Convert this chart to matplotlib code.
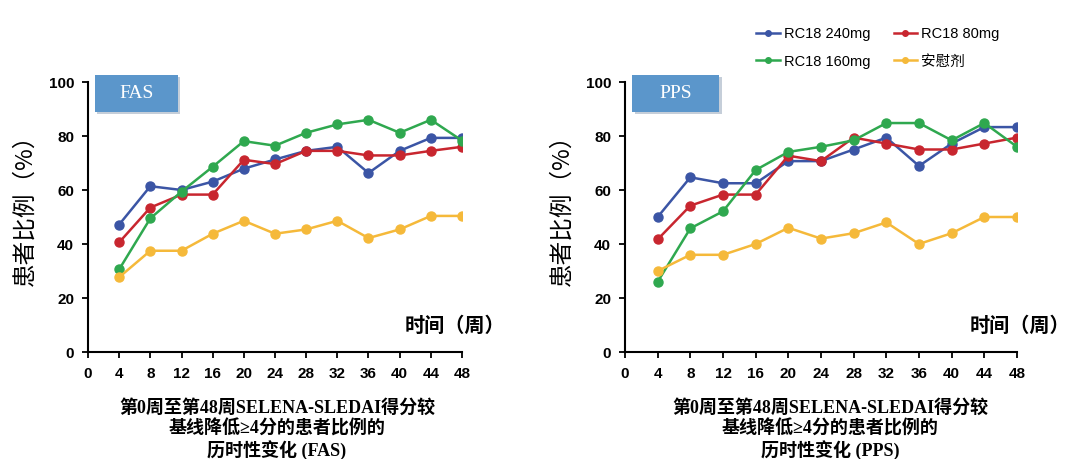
import matplotlib.pyplot as plt
from matplotlib.patches import FancyBboxPatch
from matplotlib.lines import Line2D

plt.rcParams['font.family'] = ['Liberation Sans', 'Noto Sans CJK SC']

weeks = [4, 8, 12, 16, 20, 24, 28, 32, 36, 40, 44, 48]
series_names = ['RC18 240mg', 'RC18 80mg', 'RC18 160mg', '安慰剂']
colors = ['#3B55A5', '#C8262F', '#2FA84F', '#F5B93A']

# FAS
fas_240 = [47.2, 61.4, 60.0, 63.1, 67.9, 71.3, 74.5, 76.0, 66.3, 74.5, 79.3, 79.3]
fas_80 = [40.6, 53.5, 58.3, 58.3, 71.2, 69.6, 74.5, 74.5, 72.8, 72.8, 74.5, 76.0]
fas_160 = [30.6, 49.5, 59.4, 68.6, 78.1, 76.4, 81.2, 84.3, 86.0, 81.2, 86.0, 78.3]
fas_pbo = [27.7, 37.5, 37.5, 43.8, 48.6, 43.8, 45.4, 48.6, 42.2, 45.4, 50.4, 50.4]

# PPS
pps_240 = [50.0, 64.7, 62.5, 62.5, 70.7, 70.7, 75.0, 79.4, 68.9, 77.2, 83.3, 83.3]
pps_80 = [41.7, 54.2, 58.3, 58.3, 72.7, 70.7, 79.4, 77.2, 75.0, 75.0, 77.2, 79.4]
pps_160 = [26.0, 45.8, 52.1, 67.4, 74.1, 76.0, 78.4, 84.8, 84.8, 78.4, 84.8, 76.0]
pps_pbo = [30.0, 36.0, 36.0, 40.0, 46.0, 42.0, 44.0, 48.0, 40.0, 44.0, 50.0, 50.0]

panels = [
    ('FAS', [fas_240, fas_80, fas_160, fas_pbo],
     ['第0周至第48周SELENA-SLEDAI得分较', '基线降低≥4分的患者比例的', '历时性变化 (FAS)']),
    ('PPS', [pps_240, pps_80, pps_160, pps_pbo],
     ['第0周至第48周SELENA-SLEDAI得分较', '基线降低≥4分的患者比例的', '历时性变化 (PPS)']),
]

W, H = 1071, 459
fig = plt.figure(figsize=(W / 100, H / 100), dpi=100)

ax_lefts = [88, 625]
ax_right_edges = [462, 1017]
ylabel_x = [25, 562]
time_label_right = [505, 1070]
caption_centers = [277, 830]
serif_cjk = ['Liberation Serif', 'Noto Sans CJK SC']

for i, (tag, data, caption) in enumerate(panels):
    l = ax_lefts[i] / W
    w = (ax_right_edges[i] - ax_lefts[i]) / W
    b = (H - 352) / H
    h = 270 / H
    ax = fig.add_axes([l, b, w, h])
    for vals, c in zip(data, colors):
        ax.plot(weeks, vals, color=c, lw=1.8, marker='o', ms=6.5, zorder=3)
    ax.set_xlim(0, 48)
    ax.set_ylim(0, 100)
    ax.set_xticks(range(0, 49, 4))
    ax.set_yticks(range(0, 101, 20))
    for s in ['top', 'right']:
        ax.spines[s].set_visible(False)
    for s in ['left', 'bottom']:
        ax.spines[s].set_linewidth(1.5)
    ax.tick_params(direction='out', length=4, width=1.3, labelsize=11)
    ax.tick_params(axis='x', pad=7)
    ax.tick_params(axis='y', pad=6)
    for lab in ax.get_xticklabels() + ax.get_yticklabels():
        lab.set_fontweight('bold')
    ax.set_ylabel('患者比例（%）', fontsize=17, family=['Noto Sans CJK SC'])
    ax.yaxis.set_label_coords((ylabel_x[i] - ax_lefts[i]) / (ax_right_edges[i] - ax_lefts[i]),
                              (352 - 204) / 270)
    ax.yaxis.label.set_va('center')
    fig.text(time_label_right[i] / W, 1 - 325 / H, '时间（周）', ha='right',
             va='center', fontsize=14.5, fontweight='bold',
             family=['Noto Sans CJK SC'])
    # label box
    shadow = FancyBboxPatch((0.025, 0.882), 0.222, 0.137, boxstyle='square,pad=0',
                            transform=ax.transAxes, facecolor='#C5CED9',
                            edgecolor='none', clip_on=False, zorder=4)
    ax.add_patch(shadow)
    box = FancyBboxPatch((0.019, 0.889), 0.222, 0.137, boxstyle='square,pad=0',
                         transform=ax.transAxes, facecolor='#5B96CB',
                         edgecolor='none', clip_on=False, zorder=5)
    ax.add_patch(box)
    ax.text(0.13, 0.957, tag, transform=ax.transAxes, ha='center', va='center',
            color='white', fontsize=14, family=['Liberation Serif'], zorder=6)
    # caption
    for j, line in enumerate(caption):
        fig.text(caption_centers[i] / W, 1 - (408 + j * 21) / H, line, ha='center',
                 va='center', fontsize=13, fontweight='bold', family=serif_cjk)

# legend rows: 240mg / 80mg, then 160mg / placebo (column-major order for ncol=2)
order = [0, 2, 1, 3]
handles = [Line2D([], [], color=colors[k], lw=1.8, marker='o', ms=4) for k in order]
labels = [series_names[k] for k in order]
fig.legend(handles, labels, loc='center', bbox_to_anchor=(878 / W, 1 - 48 / H),
           ncol=2, frameon=False, fontsize=10.5, handlelength=1.6, handletextpad=0.3,
           columnspacing=1.6, labelspacing=0.9)

fig.savefig('out.png', dpi=100)
